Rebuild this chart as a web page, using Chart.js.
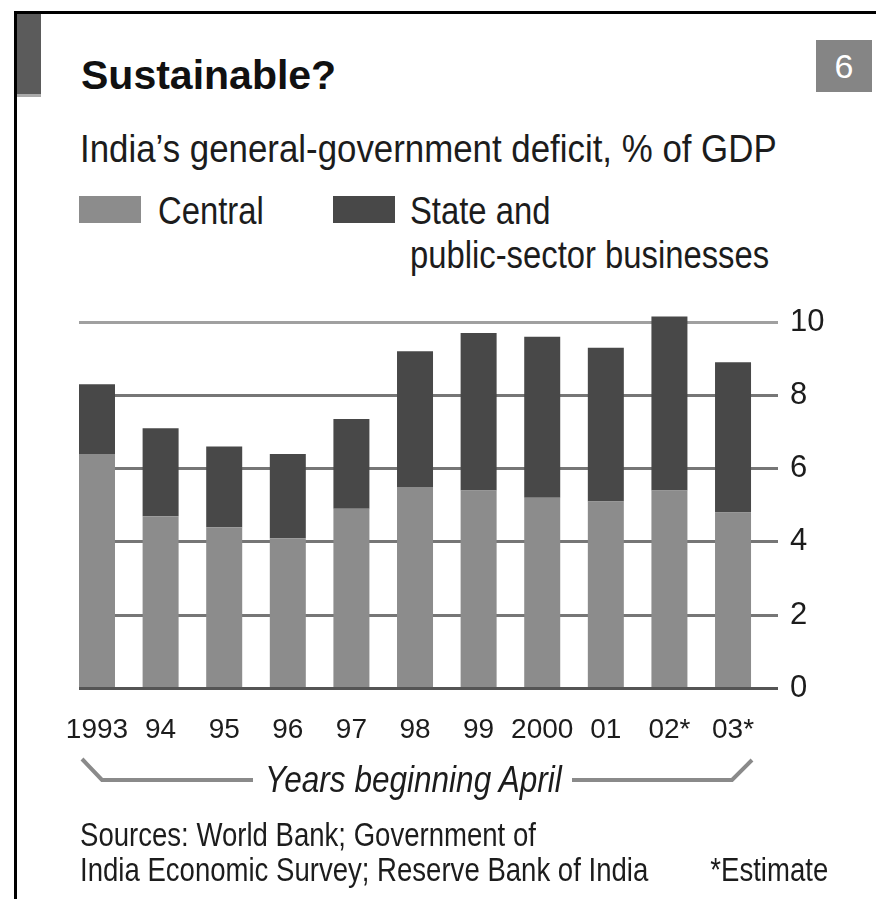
<!DOCTYPE html>
<html>
<head>
    <title>Sustainable?</title>
    <meta charset="utf-8" />
    <script src="https://cdn.jsdelivr.net/npm/chart.js"></script>
    <style>
        body { margin: 0; background: #fff; font-family: "Liberation Sans", sans-serif; color: #1c1c1c; }
        #page { position: relative; width: 876px; height: 899px; overflow: hidden; }
        .abs { position: absolute; white-space: nowrap; line-height: 1; transform-origin: left top; }
        .frame-top { position: absolute; left: 14px; top: 11px; width: 862px; height: 3px; background: #000; }
        .frame-left { position: absolute; left: 14px; top: 11px; width: 3px; height: 888px; background: #000; }
        .tab { position: absolute; left: 17px; top: 14px; width: 24px; height: 80px; background: #5b5b5b; border-bottom: 3px solid #aaa; }
        .title { left: 81px; top: 55px; font-weight: bold; font-size: 41px; color: #111; }
        .badge { position: absolute; left: 816px; top: 40px; width: 56px; height: 52px; background: #858585; color: #fff; font-size: 34px; text-align: center; line-height: 52px; }
        .subtitle { left: 80px; top: 130px; font-size: 38px; transform: scaleX(0.917); }
        .swatch { position: absolute; width: 62px; height: 27px; }
        .legend { font-size: 38px; transform: scaleX(0.863); }
        .axis-title { left: 265px; top: 762px; font-size: 36px; font-style: italic; transform: scaleX(0.876); }
        .note { font-size: 33px; transform: scaleX(0.835); }
        #chartBox { position: absolute; left: 0; top: 290px; }
    </style>
</head>
<body>
<div id="page">
    <div class="frame-top"></div>
    <div class="frame-left"></div>
    <div class="tab"></div>
    <div class="abs title">Sustainable?</div>
    <div class="badge">6</div>
    <div class="abs subtitle">India’s general-government deficit, % of GDP</div>

    <div class="swatch" style="left:79px; top:196px; background:#8c8c8c;"></div>
    <div class="abs legend" style="left:158px; top:192px;">Central</div>
    <div class="swatch" style="left:333px; top:196px; background:#484848;"></div>
    <div class="abs legend" style="left:410px; top:192px;">State and</div>
    <div class="abs legend" style="left:410px; top:236px;">public-sector businesses</div>

    <div id="chartBox"><canvas id="deficitChart" width="876" height="490"></canvas></div>

    <svg class="abs" style="left:0; top:0;" width="876" height="899">
        <polyline points="82,759 102,780 253,780" fill="none" stroke="#8a8a8a" stroke-width="4" />
        <polyline points="572,780 732,780 752,760" fill="none" stroke="#8a8a8a" stroke-width="4" />
    </svg>
    <div class="abs axis-title">Years beginning April</div>

    <div class="abs note" style="left:80px; top:818px;">Sources: World Bank; Government of</div>
    <div class="abs note" style="left:80px; top:853px;">India Economic Survey; Reserve Bank of India</div>
    <div class="abs note" style="right:48px; top:853px; transform-origin: right top;">*Estimate</div>
</div>

<script>
    // Years beginning April, % of GDP
    var years = ['1993', '94', '95', '96', '97', '98', '99', '2000', '01', '02*', '03*'];
    var central = [6.4, 4.7, 4.4, 4.1, 4.9, 5.5, 5.4, 5.2, 5.1, 5.4, 4.8];
    var stateAndPublic = [1.9, 2.4, 2.2, 2.3, 2.45, 3.7, 4.3, 4.4, 4.2, 4.75, 4.1];
    var yTicks = [0, 2, 4, 6, 8, 10];

    function toPoints(values) {
        return values.map(function (v, i) { return { x: i, y: v }; });
    }

    var ctx = document.getElementById('deficitChart').getContext('2d');
    var deficitChart = new Chart(ctx, {
        type: 'bar',
        data: {
            datasets: [{
                label: 'Central',
                data: toPoints(central),
                backgroundColor: '#8c8c8c',
                barPercentage: 0.566,
                categoryPercentage: 1,
                clip: false
            }, {
                label: 'State and public-sector businesses',
                data: toPoints(stateAndPublic),
                backgroundColor: '#484848',
                barPercentage: 0.566,
                categoryPercentage: 1,
                clip: false
            }]
        },
        options: {
            responsive: false,
            animation: false,
            layout: { padding: { top: 32, left: 79, bottom: 8, right: 0 } },
            plugins: {
                legend: { display: false },
                title: { display: false },
                tooltip: { enabled: false }
            },
            scales: {
                x: {
                    type: 'linear',
                    stacked: true,
                    offset: false,
                    min: -0.283,
                    max: 10.707,
                    grid: { display: false, drawTicks: false },
                    border: { display: false },
                    afterBuildTicks: function (axis) {
                        axis.ticks = years.map(function (y, i) { return { value: i }; });
                    },
                    ticks: {
                        autoSkip: false,
                        maxRotation: 0,
                        padding: 25,
                        color: '#1c1c1c',
                        font: { family: '"Liberation Sans", sans-serif', size: 28 },
                        callback: function (value) { return years[value]; }
                    }
                },
                y: {
                    position: 'right',
                    stacked: true,
                    min: 0,
                    max: 10,
                    afterBuildTicks: function (axis) {
                        axis.ticks = yTicks.map(function (v) { return { value: v }; });
                    },
                    afterFit: function (axis) { axis.width = 98; },
                    border: { display: false },
                    grid: {
                        drawTicks: false,
                        lineWidth: 3,
                        color: function (c) {
                            if (c.tick && c.tick.value === 10) return '#a0a0a0';
                            if (c.tick && c.tick.value === 0) return '#555555';
                            return '#767676';
                        }
                    },
                    ticks: {
                        padding: 12,
                        color: '#1c1c1c',
                        font: { family: '"Liberation Sans", sans-serif', size: 31 }
                    }
                }
            }
        }
    });
</script>
</body>
</html>
